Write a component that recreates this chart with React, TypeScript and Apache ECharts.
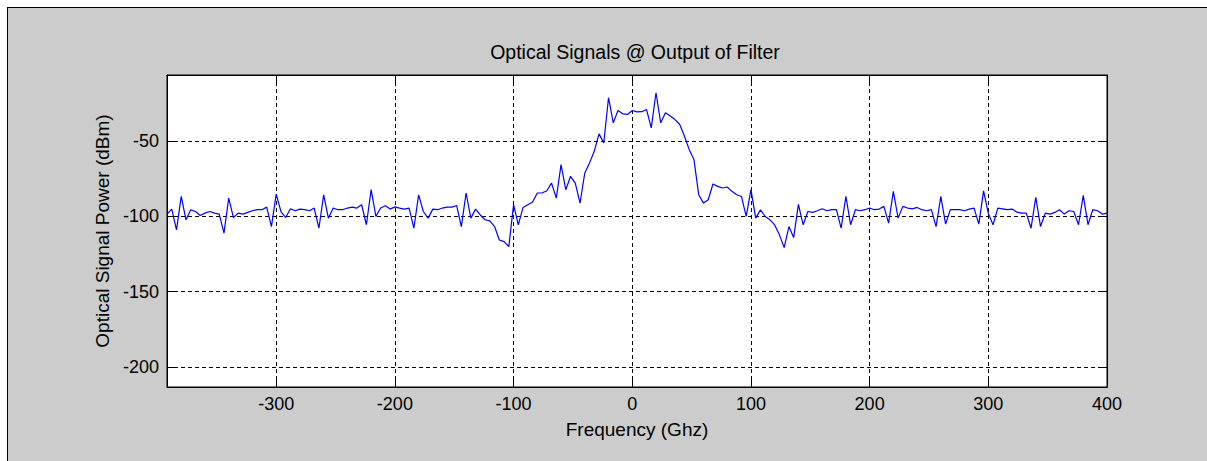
import { useEffect, useRef } from "react";
import * as echarts from "echarts";

// Spectrum sampled on a regular 4 GHz grid starting at -392 GHz
const FREQ_START_GHZ = -392;
const FREQ_STEP_GHZ = 4;

const POWER_DBM = [
  // -392 .. -264
  -98.4, -95.1, -108.9, -86.7, -102.2, -95.6, -96.7, -99.3, -97.8, -96.7, -97.8,
  -98.4, -111.1, -87.8, -100.7, -97.8, -98.4, -97.3, -96.2, -95.5, -95.5, -93.8,
  -106.7, -85.1, -96.7, -100.7, -94.9, -96.2, -95.1, -95.5, -96.2, -94.4, -107.8,
  // -260 .. -128
  -85.6, -101.1, -94.4, -95.5, -95.5, -94.4, -93.8, -94.4, -92.2, -105.5, -82.2,
  -100.0, -94.4, -92.9, -95.1, -93.6, -94.4, -95.1, -94.4, -107.8, -85.6, -96.7,
  -101.1, -95.1, -95.5, -94.4, -93.8, -93.8, -92.7, -106.7, -84.4, -101.1, -95.1,
  -99.0,
  // -124 .. 0
  -102.2, -102.9, -106.7, -115.6, -116.7, -120.0, -92.2, -105.6, -94.0, -92.2,
  -90.4, -84.4, -84.4, -82.9, -77.8, -87.8, -65.6, -82.2, -73.3, -77.8, -91.1,
  -71.1, -64.4, -56.7, -45.1, -51.1, -21.1, -37.8, -29.6, -31.8, -32.2, -29.6,
  // 4 .. 140
  -30.5, -30.4, -28.9, -41.1, -17.8, -37.8, -31.1, -33.3, -35.6, -38.9, -46.7,
  -55.6, -62.2, -85.6, -91.1, -88.9, -78.4, -80.0, -81.1, -80.4, -83.3, -85.6,
  -86.7, -100.0, -82.2, -101.1, -95.6, -100.0, -102.2, -105.6, -112.2, -120.7,
  -106.7, -114.0, -92.0,
  // 144 .. 272
  -105.6, -96.7, -97.3, -96.2, -94.9, -96.2, -95.5, -95.5, -107.8, -86.7, -105.5,
  -95.5, -96.2, -95.5, -94.4, -95.5, -95.1, -93.3, -104.4, -83.3, -101.1, -93.3,
  -94.4, -94.9, -94.0, -95.5, -96.2, -95.5, -106.7, -86.7, -105.1, -95.5, -95.5,
  // 276 .. 400
  -95.5, -96.2, -95.1, -94.4, -105.1, -83.0, -98.0, -105.5, -94.4, -94.9, -95.5,
  -95.1, -97.1, -97.8, -97.8, -107.8, -87.3, -106.7, -97.8, -98.4, -97.3, -95.5,
  -98.4, -96.2, -96.7, -105.5, -86.0, -105.5, -95.5, -96.2, -98.4, -97.8,
];

const X_TICKS = [-300, -200, -100, 0, 100, 200, 300, 400];
const Y_TICKS = [-200, -150, -100, -50];
const X_MIN = -392;
const X_MAX = 400;
const Y_MIN = -213.3;
const Y_MAX = -6;

const TITLE = "Optical Signals @ Output of Filter";
const X_NAME = "Frequency (Ghz)";
const Y_NAME = "Optical Signal Power (dBm)";

const FONT = "'Liberation Sans', Arial, Helvetica, sans-serif";

export default function App() {
  const ref = useRef<HTMLDivElement>(null);

  useEffect(() => {
    if (!ref.current) return;
    const chart = echarts.init(ref.current, undefined, { renderer: "svg" });

    const points = POWER_DBM.map((p, i) => [FREQ_START_GHZ + i * FREQ_STEP_GHZ, p]);

    const tickStyle = { inside: true, length: 7, lineStyle: { color: "#000", width: 1 } };
    const labelStyle = { color: "#000", fontSize: 18, fontFamily: FONT };
    const boxLine = { show: true, onZero: false, lineStyle: { color: "#000", width: 1 } };

    chart.setOption({
      animation: false,
      backgroundColor: "#ffffff",
      textStyle: { fontFamily: FONT },
      title: {
        text: TITLE,
        left: 635,
        top: 42,
        textAlign: "center",
        padding: 0,
        textStyle: { fontSize: 19.5, fontWeight: "normal", color: "#000", fontFamily: FONT },
      },
      graphic: [
        {
          type: "rect",
          z: -100,
          silent: true,
          shape: { x: 7, y: 7, width: 1220, height: 470 },
          style: { fill: "#cccccc" },
        },
        {
          type: "line",
          z: -99,
          silent: true,
          shape: { x1: 7, y1: 7.5, x2: 1207, y2: 7.5 },
          style: { stroke: "#000", lineWidth: 1 },
        },
        {
          type: "line",
          z: -99,
          silent: true,
          shape: { x1: 7.5, y1: 7, x2: 7.5, y2: 461 },
          style: { stroke: "#000", lineWidth: 1 },
        },
      ],
      grid: {
        left: 167,
        right: 100,
        top: 75,
        bottom: 74,
        show: true,
        backgroundColor: "#ffffff",
        borderColor: "#000",
        borderWidth: 1,
      },
      xAxis: [
        {
          type: "value",
          position: "bottom",
          min: X_MIN,
          max: X_MAX,
          name: X_NAME,
          nameLocation: "middle",
          nameGap: 33,
          nameTextStyle: { color: "#000", fontSize: 19, fontFamily: FONT },
          axisLine: boxLine,
          axisTick: { ...tickStyle, customValues: X_TICKS },
          axisLabel: { ...labelStyle, margin: 8, customValues: X_TICKS },
          splitLine: { show: false },
        },
        {
          type: "value",
          position: "top",
          min: X_MIN,
          max: X_MAX,
          axisLine: boxLine,
          axisTick: { ...tickStyle, customValues: X_TICKS },
          axisLabel: { show: false },
          splitLine: { show: false },
        },
      ],
      yAxis: [
        {
          type: "value",
          position: "left",
          min: Y_MIN,
          max: Y_MAX,
          name: Y_NAME,
          nameLocation: "middle",
          nameGap: 50,
          nameTextStyle: { color: "#000", fontSize: 19, fontFamily: FONT },
          axisLine: boxLine,
          axisTick: { ...tickStyle, customValues: Y_TICKS },
          axisLabel: { ...labelStyle, margin: 8, customValues: Y_TICKS },
          splitLine: { show: false },
        },
        {
          type: "value",
          position: "right",
          min: Y_MIN,
          max: Y_MAX,
          axisLine: boxLine,
          axisTick: { ...tickStyle, customValues: Y_TICKS },
          axisLabel: { show: false },
          splitLine: { show: false },
        },
      ],
      series: [
        {
          type: "line",
          xAxisIndex: 0,
          yAxisIndex: 0,
          data: points,
          symbol: "none",
          showSymbol: false,
          z: 3,
          lineStyle: { color: "#0000ff", width: 1.2 },
          emphasis: { disabled: true },
          markLine: {
            silent: true,
            symbol: "none",
            z: 1,
            label: { show: false },
            emphasis: { disabled: true },
            lineStyle: { color: "#000", width: 1, type: [4, 3] },
            data: [
              ...X_TICKS.map((v) => ({ xAxis: v })),
              ...Y_TICKS.map((v) => ({ yAxis: v })),
            ],
          },
        },
      ],
    });

    return () => chart.dispose();
  }, []);

  return (
    <div
      ref={ref}
      style={{ position: "fixed", left: 0, top: 0, width: 1207, height: 461 }}
    />
  );
}
